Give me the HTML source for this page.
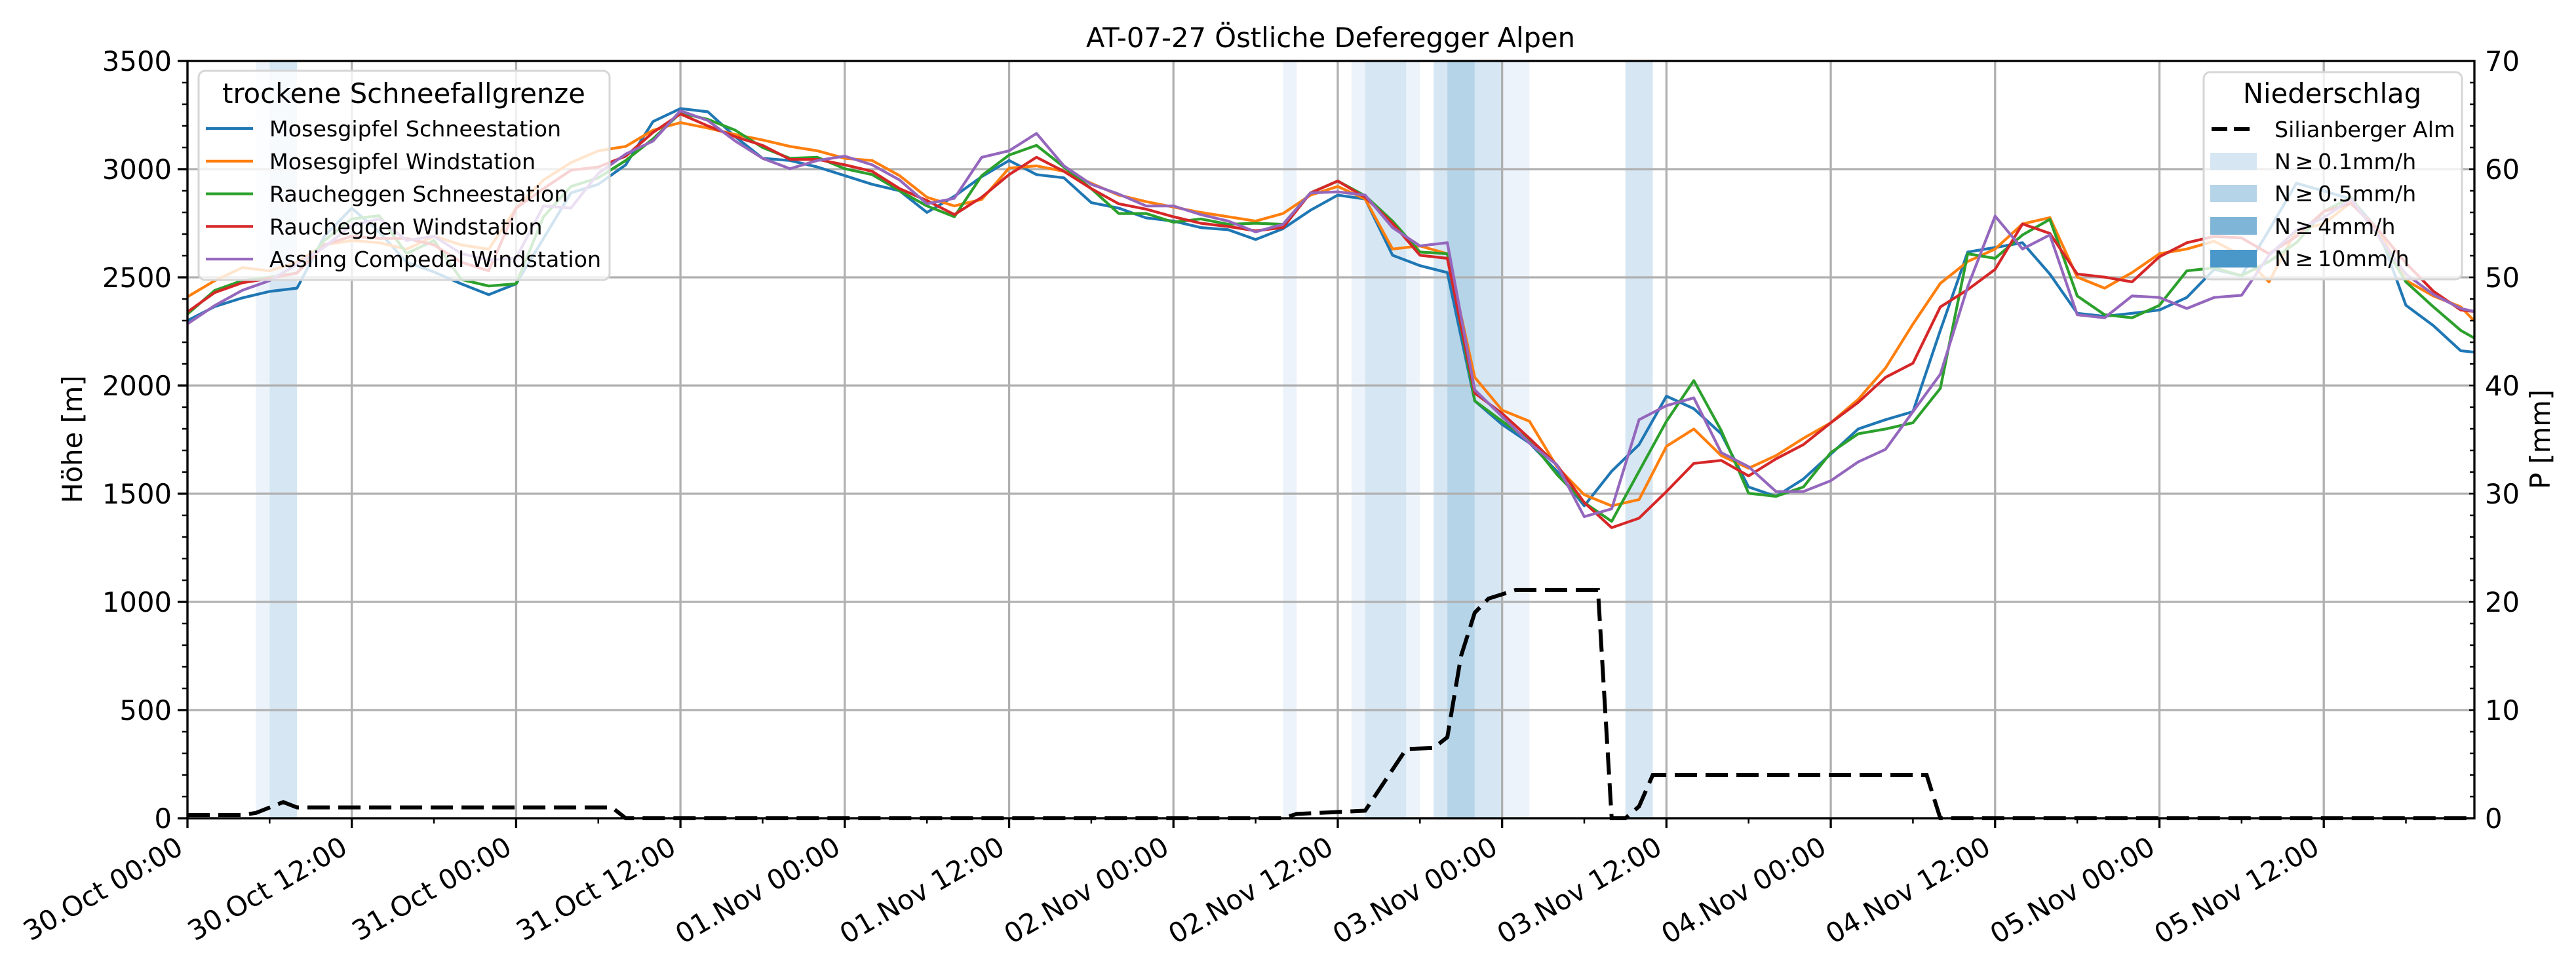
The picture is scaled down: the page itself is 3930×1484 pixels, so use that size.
<!DOCTYPE html>
<html><head><meta charset="utf-8"><title>AT-07-27 Östliche Deferegger Alpen</title>
<style>html,body{margin:0;padding:0;background:#fff;}svg{display:block;font-family:"DejaVu Sans","Liberation Sans",sans-serif;}</style>
</head><body>
<svg id="chart" width="3930" height="1484" viewBox="0 0 3930 1484" xmlns="http://www.w3.org/2000/svg">
<rect x="0" y="0" width="3930" height="1484" fill="#fff"/>
<g id="bands"></g>
<g id="grid"></g>
<g id="series"></g>
<g id="axes"></g>
<text x="2030" y="72" font-size="41.7" text-anchor="middle">AT-07-27 Östliche Deferegger Alpen</text>
<text transform="translate(125,670) rotate(-90)" font-size="41.7" text-anchor="middle">Höhe [m]</text>
<text transform="translate(3890,670) rotate(-90)" font-size="41.7" text-anchor="middle">P [mm]</text>
<g id="legend-left">
<rect x="303" y="108" width="627" height="319" rx="10" fill="#fff" fill-opacity="0.8" stroke="#d6d6d6" stroke-width="3"/>
<text x="616" y="157" font-size="41.7" text-anchor="middle">trockene Schneefallgrenze</text>
</g>
<g id="legend-right">
<rect x="3362" y="110" width="394" height="316" rx="10" fill="#fff" fill-opacity="0.8" stroke="#d6d6d6" stroke-width="3"/>
<text x="3558" y="157" font-size="41.7" text-anchor="middle">Niederschlag</text>
<line x1="3374" y1="197" x2="3441" y2="197" stroke="#000" stroke-width="6" stroke-dasharray="24 10"/>
<text x="3470" y="209" font-size="33.3">Silianberger Alm</text>
<rect x="3372" y="233" width="71" height="26" fill="#d6e6f3"/>
<text x="3470" y="258" font-size="33.3">N&#8201;≥&#8201;0.1mm/h</text>
<rect x="3372" y="282" width="71" height="26" fill="#b5d4e8"/>
<text x="3470" y="307" font-size="33.3">N&#8201;≥&#8201;0.5mm/h</text>
<rect x="3372" y="331" width="71" height="27" fill="#7fb5d6"/>
<text x="3470" y="357" font-size="33.3">N&#8201;≥&#8201;4mm/h</text>
<rect x="3372" y="381" width="71" height="27" fill="#4a97c9"/>
<text x="3470" y="406" font-size="33.3">N&#8201;≥&#8201;10mm/h</text>
</g>
</svg>
<script>
const hours = [0,2,4,6,8,10,12,14,16,18,20,22,24,26,28,30,32,34,36,38,40,42,44,46,48,50,52,54,56,58,60,62,64,66,68,70,72,74,76,78,80,82,84,86,88,90,92,94,96,98,100,102,104,106,108,110,112,114,116,118,120,122,124,126,128,130,132,134,136,138,140,142,144,146,148,150,152,154,156,158,160,162,164,166,167];
const moseSchnee = [2300,2365,2405,2435,2450,2690,2820,2710,2570,2525,2470,2420,2470,2680,2890,2930,3020,3220,3280,3265,3150,3050,3040,3010,2970,2930,2900,2800,2875,2965,3040,2975,2960,2845,2820,2775,2760,2730,2720,2675,2725,2810,2880,2862,2602,2554,2522,1929,1820,1734,1604,1444,1604,1727,1951,1893,1777,1531,1488,1568,1683,1799,1842,1879,2255,2617,2638,2660,2515,2334,2320,2334,2349,2407,2537,2508,2718,2935,2899,2862,2718,2371,2277,2161,2154];
const moseWind = [2410,2485,2545,2530,2570,2650,2670,2660,2630,2690,2650,2630,2820,2950,3030,3085,3105,3180,3215,3190,3160,3135,3105,3085,3050,3040,2970,2870,2830,2860,3005,3015,2990,2935,2880,2850,2825,2800,2780,2760,2795,2880,2920,2862,2631,2645,2609,2038,1886,1835,1625,1495,1444,1473,1719,1799,1676,1618,1676,1756,1828,1936,2081,2284,2472,2573,2631,2747,2776,2501,2450,2522,2609,2631,2667,2602,2479,2718,2747,2848,2718,2486,2414,2364,2298];
const rauchSchnee = [2330,2440,2485,2500,2520,2670,2770,2785,2610,2670,2490,2460,2470,2780,2920,2960,3040,3140,3260,3230,3180,3100,3050,3055,3002,2975,2900,2830,2780,2970,3065,3110,3010,2910,2795,2795,2755,2770,2745,2750,2745,2890,2945,2877,2760,2617,2609,1929,1835,1748,1589,1459,1372,1604,1835,2023,1792,1502,1488,1531,1690,1777,1799,1828,1987,2609,2588,2696,2768,2414,2327,2313,2371,2530,2544,2508,2573,2660,2805,2870,2689,2479,2364,2255,2219];
const rauchWind = [2340,2430,2475,2495,2520,2650,2690,2680,2680,2650,2570,2530,2820,2910,2995,3010,3060,3170,3255,3200,3150,3110,3045,3045,3020,2990,2910,2855,2790,2870,2975,3055,2990,2910,2840,2815,2780,2750,2735,2715,2730,2890,2945,2870,2750,2602,2588,1965,1871,1756,1633,1459,1343,1387,1510,1640,1654,1582,1661,1727,1828,1922,2038,2103,2363,2443,2537,2747,2703,2515,2501,2479,2595,2660,2689,2682,2609,2689,2805,2841,2718,2566,2436,2349,2342];
const asslingWind = [2285,2370,2440,2485,2560,2640,2740,2770,2670,2690,2610,2580,2590,2830,2820,2980,3070,3130,3270,3225,3130,3050,3002,3040,3060,3020,2950,2840,2865,3055,3085,3165,3015,2930,2885,2830,2830,2790,2760,2710,2745,2890,2895,2880,2730,2645,2660,1980,1857,1734,1633,1394,1430,1842,1907,1943,1690,1625,1510,1510,1560,1647,1705,1879,2052,2457,2783,2631,2696,2327,2313,2414,2407,2356,2407,2417,2602,2718,2776,2862,2689,2515,2421,2356,2342];
const precipHours = [0,4,5,7,8,31,32,80,81,86,89,91,92,93,94,95,97,103,104,105,106,107,127,128,167];
const precipValues = [0.3,0.3,0.5,1.5,1.0,1.0,0,0,0.4,0.7,6.4,6.5,7.5,15,19,20.3,21.1,21.1,0,0,1.1,4,4,0,0];
const bandStarts = [5,6,80,85,86,89,91,92,94,96,105];
const bandEnds = [6,8,81,86,89,90,92,94,96,98,107];
const bandLevels = [0,1,0,0,1,0,1,2,1,0,1];
const yTicks = [0,500,1000,1500,2000,2500,3000,3500];
const pTicks = [0,10,20,30,40,50,60,70];
const xTickLabels = ["30.Oct 00:00","30.Oct 12:00","31.Oct 00:00","31.Oct 12:00","01.Nov 00:00","01.Nov 12:00","02.Nov 00:00","02.Nov 12:00","03.Nov 00:00","03.Nov 12:00","04.Nov 00:00","04.Nov 12:00","05.Nov 00:00","05.Nov 12:00"];
const seriesNames = ["Mosesgipfel Schneestation","Mosesgipfel Windstation","Raucheggen Schneestation","Raucheggen Windstation","Assling Compedal Windstation"];

const NS="http://www.w3.org/2000/svg";
const L=286,R=3775,T=93,B=1248,HMAX=167,YMAX=3500,PMAX=70;
const xS=h=>L+h*(R-L)/HMAX;
const yS=v=>B-v*(B-T)/YMAX;
const pS=v=>B-v*(B-T)/PMAX;
function mk(tag,attrs,parent){const e=document.createElementNS(NS,tag);for(const k in attrs)e.setAttribute(k,attrs[k]);parent.appendChild(e);return e;}
const gB=document.getElementById('bands'),gG=document.getElementById('grid'),gS=document.getElementById('series'),gA=document.getElementById('axes');
const bandColors=['#edf3fa','#d6e6f3','#b5d4e8'];
bandStarts.forEach((s,i)=>{
  const r=mk('rect',{x:xS(s),y:T,width:xS(bandEnds[i])-xS(s),height:B-T,fill:bandColors[bandLevels[i]]},gB);
  
  
});
yTicks.forEach(v=>{
  const g=mk('line',{x1:L,x2:R,y1:yS(v),y2:yS(v),stroke:'#b0b0b0','stroke-width':3.3},gG);
  
  
});
xTickLabels.forEach((lab,i)=>{
  const x=xS(i*12);
  const g=mk('line',{x1:x,x2:x,y1:T,y2:B,stroke:'#b0b0b0','stroke-width':3.3},gG);
  
  
});
const colors=['#1f77b4','#ff7f0e','#2ca02c','#d62728','#9467bd'];
const allSeries=[moseSchnee,moseWind,rauchSchnee,rauchWind,asslingWind];
const slugs=['line-mosesgipfel-schnee','line-mosesgipfel-wind','line-raucheggen-schnee','line-raucheggen-wind','line-assling-wind'];
allSeries.forEach((arr,si)=>{
  const pts=arr.map((v,i)=>xS(hours[i]).toFixed(1)+','+yS(v).toFixed(1)).join(' ');
  const pl=mk('polyline',{points:pts,fill:'none',stroke:colors[si],'stroke-width':4.2,'stroke-linejoin':'round'},gS);
  
  
});
const ppts=precipValues.map((v,i)=>xS(precipHours[i]).toFixed(1)+','+pS(v).toFixed(1)).join(' ');
const pl=mk('polyline',{points:ppts,fill:'none',stroke:'#000','stroke-width':6,'stroke-dasharray':'34 13'},gS);


const sp=mk('rect',{x:L,y:T,width:R-L,height:B-T,fill:'none',stroke:'#000','stroke-width':3.3},gA);


for(let v=0;v<=YMAX;v+=100){
  const major=v%500===0;
  const t=mk('line',{x1:L-(major?15:8),x2:L,y1:yS(v),y2:yS(v),stroke:'#000','stroke-width':major?3.3:2.5},gA);
  
  
}
yTicks.forEach(v=>{
  const t=mk('text',{x:L-24,y:yS(v)+15,'font-size':41.7,'text-anchor':'end'},gA);
  t.textContent=String(v);
  
  
});
for(let v=0;v<=PMAX;v+=2){
  const major=v%10===0;
  const t=mk('line',{x1:R,x2:R-(major?8:7),y1:pS(v),y2:pS(v),stroke:'#000','stroke-width':2.5},gA);
  
  
}
pTicks.forEach(v=>{
  const t=mk('text',{x:R+16,y:pS(v)+15,'font-size':41.7},gA);
  t.textContent=String(v);
  
  
});
for(let h=0;h<=HMAX;h+=6){
  const major=h%12===0;
  const t=mk('line',{x1:xS(h),x2:xS(h),y1:B,y2:B+(major?15:8),stroke:'#000','stroke-width':major?3.3:2.5},gA);
  
  
}
xTickLabels.forEach((lab,i)=>{
  const x=xS(i*12)-4,y=1300;
  const t=mk('text',{x:x,y:y,'font-size':41.7,'text-anchor':'end',transform:'rotate(-30 '+x+' '+y+')'},gA);
  t.textContent=lab;
  
  
});
const gL=document.getElementById('legend-left');
seriesNames.forEach((n,i)=>{
  const y=196+i*49.8;
  const ln=mk('line',{x1:314,x2:386,y1:y,y2:y,stroke:colors[i],'stroke-width':4.2},gL);
  
  
  const t=mk('text',{x:411,y:y+12,'font-size':33.3},gL);
  t.textContent=n;
  
  
});
</script>
</body></html>
